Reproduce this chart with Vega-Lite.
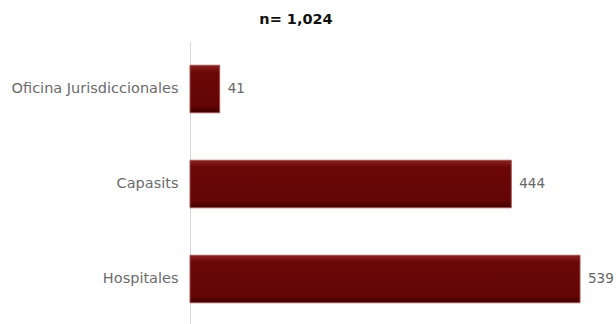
{
  "$schema": "https://vega.github.io/schema/vega-lite/v6.json",
  "autosize": "none",
  "width": 390,
  "height": 285,
  "padding": {"left": 190, "top": 41.5, "right": 36, "bottom": 0},
  "background": "white",
  "title": {"text": "n= 1,024", "font": "DejaVu Sans", "fontSize": 14.5, "fontWeight": "bold", "color": "#111111", "anchor": "middle", "dx": -89, "offset": 14},
  "data": {"values": [
    {"cat": "Oficina Jurisdiccionales", "n": 41},
    {"cat": "Capasits", "n": 444},
    {"cat": "Hospitales", "n": 539}
  ]},
  "encoding": {
    "y": {"field": "cat", "type": "nominal", "sort": null,
      "scale": {"paddingInner": 0.5, "paddingOuter": 0.25},
      "axis": {"title": null, "ticks": false, "domainColor": "#d9d9d9", "domainWidth": 1, "labelFont": "DejaVu Sans", "labelFontSize": 14.5, "labelColor": "#6b6b6b", "labelPadding": 12, "labelLimit": 300}},
    "x": {"field": "n", "type": "quantitative", "scale": {"domain": [0, 539], "nice": false}, "axis": null}
  },
  "layer": [
    {"mark": {"type": "bar", "stroke": "#a05050", "strokeWidth": 1, "color": {"gradient": "linear", "x1": 0, "y1": 0, "x2": 0, "y2": 1, "stops": [{"offset": 0, "color": "#8c2222"}, {"offset": 0.15, "color": "#6a0707"}, {"offset": 0.85, "color": "#640505"}, {"offset": 1, "color": "#3d0000"}]}}},
    {"mark": {"type": "text", "align": "left", "dx": 8, "font": "DejaVu Sans", "fontSize": 13.5, "color": "#666666"},
      "encoding": {"text": {"field": "n", "type": "quantitative"}}}
  ],
  "config": {"view": {"stroke": null}}
}
